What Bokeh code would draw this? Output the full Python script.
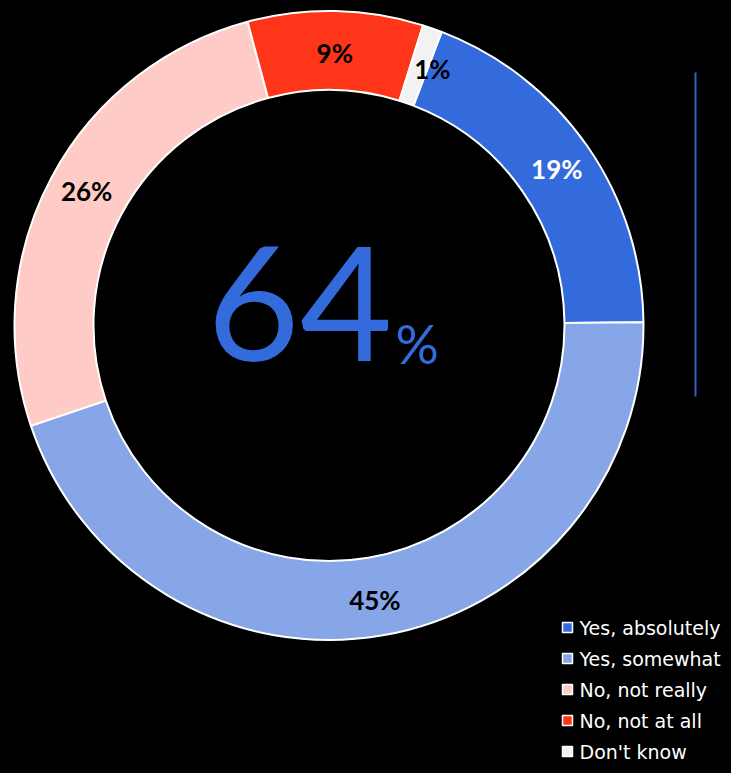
import math
from bokeh.plotting import figure
from bokeh.models import Range1d, ColumnDataSource
from bokeh.core.properties import value
from bokeh.embed import file_html
from bokeh.resources import INLINE

# ---- data ----
categories = ["Yes, absolutely", "Yes, somewhat", "No, not really", "No, not at all", "Don't know"]
shares = [19, 45, 26, 9, 1]
colors = ["#346BDC", "#86A6E8", "#FFCBC6", "#FE3519", "#F2F2F2"]
label_colors = ["white", "black", "black", "black", "black"]
yes_total = shares[0] + shares[1]

# ---- geometry (picture px mapped to data) ----
W, H = 723, 765
def sy(y):  # picture y -> data y
    return H - y

cx, cy = 328.5, sy(325)
r_in, r_out = 235.5, 314.5
first_slice = 21.0  # degrees clockwise from top

p = figure(width=W, height=H, output_backend="svg", toolbar_location=None,
           x_range=Range1d(0, W), y_range=Range1d(0, H),
           min_border=0, background_fill_color="black", border_fill_color="black")
p.outline_line_color = None
p.axis.visible = False
p.grid.visible = False

total = sum(shares)
a0 = 90.0 - first_slice
starts, ends, mids = [], [], []
cum = 0.0
for s in shares:
    st = a0 - (cum + s) / total * 360.0
    en = a0 - cum / total * 360.0
    starts.append(math.radians(st))
    ends.append(math.radians(en))
    mids.append(math.radians((st + en) / 2))
    cum += s

src = ColumnDataSource(dict(start=starts, end=ends, color=colors))
p.annular_wedge(x=cx, y=cy, inner_radius=r_in, outer_radius=r_out,
                start_angle="start", end_angle="end", fill_color="color",
                line_color="white", line_width=2, source=src)

# labels
r_lab = (r_in + r_out) / 2
x_shift = [2, 0, 0, 0, 13]
y_shift = [0, -3, 5, -2, -3]
lx = [cx + r_lab * math.cos(m) + dx for m, dx in zip(mids, x_shift)]
ly = [cy + r_lab * math.sin(m) + dy for m, dy in zip(mids, y_shift)]
ltxt = [f"{s}%" for s in shares]
p.text(x=lx, y=ly, text=ltxt, text_color=label_colors, text_font=value("Lato"),
       text_font_style="bold", text_font_size="26px", text_align="center",
       text_baseline="middle")

# center big number
p.text(x=[392], y=[sy(303)], text=[str(yes_total)], text_color="#346BDC",
       text_font=value("Lato"), text_font_size="160px", text_align="right",
       text_baseline="middle")
p.text(x=[395], y=[sy(343)], text=["%"], text_color="#346BDC",
       text_font=value("Lato"), text_font_size="54px", text_align="left",
       text_baseline="middle")

# vertical accent line
p.segment(x0=[695], y0=[sy(72)], x1=[695], y1=[sy(396)], line_color="#3560C8", line_width=2)

# legend
leg_y = [sy(627 + 31 * i) for i in range(len(categories))]
p.rect(x=[567] * len(categories), y=leg_y, width=10, height=10, fill_color=colors,
       line_color="white", line_width=1.5)
p.text(x=[579] * len(categories), y=leg_y, text=categories, text_color="white",
       text_font=value("DejaVu Sans"), text_font_size="19px", text_align="left",
       text_baseline="middle")

html = file_html(p, INLINE)
html = html.replace("</head>", "<style>html,body{background:#000000;}</style></head>", 1)
open("out.html", "w").write(html)
